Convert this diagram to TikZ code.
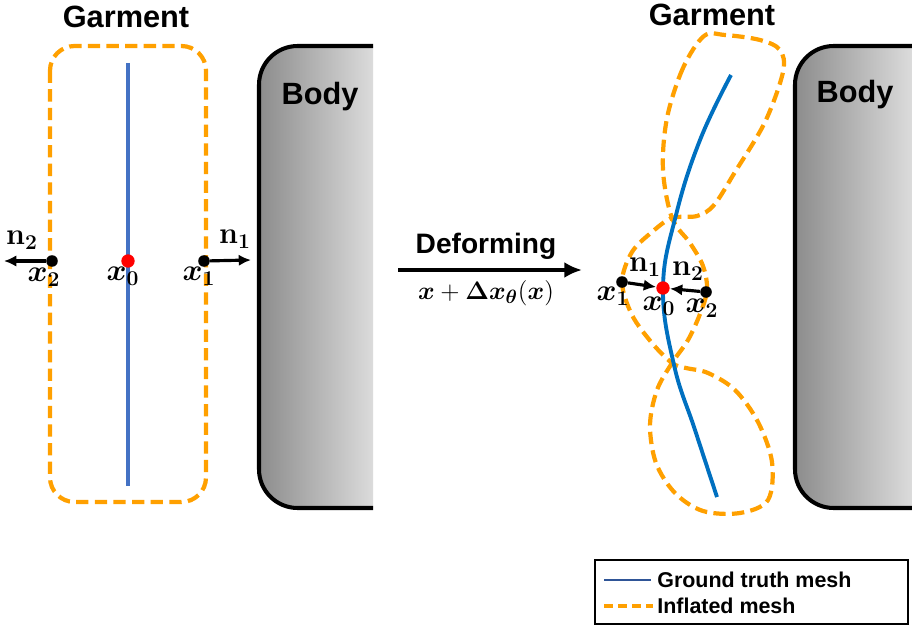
\documentclass[tikz,border=0pt]{standalone}
\usepackage{amsmath,bm}
\usepackage[no-math]{fontspec}
\setmainfont{Liberation Sans}
\usetikzlibrary{arrows.meta, positioning}

\definecolor{garmorange}{RGB}{255,160,0}
\definecolor{meshblue}{RGB}{68,114,196}
\definecolor{curveblue}{RGB}{0,112,192}
\definecolor{legblue}{RGB}{47,85,151}

\tikzset{
    inflated/.style={garmorange, line width=2.4pt, dash pattern=on 7pt off 3.6pt},
    bodyshape/.style={line width=2.3pt, left color=black!45, right color=black!14},
    dotpt/.style={circle, fill=black, inner sep=0pt, minimum size=6.6pt},
    dotctr/.style={circle, fill=red, inner sep=0pt, minimum size=7.6pt},
    normalarrow/.style={-{Latex[length=7pt,width=6.5pt]}, line width=1.8pt},
    titletext/.style={font=\fontsize{17.5}{20}\selectfont\bfseries},
    labtext/.style={font=\fontsize{18.5}{21}\selectfont, inner sep=0pt},
    legtext/.style={font=\fontsize{12.2}{14}\selectfont\bfseries, anchor=west, inner sep=0pt}
}

\begin{document}
\begin{tikzpicture}[x=0.02cm, y=-0.02cm]
    \useasboundingbox (0,0) rectangle (912,628);

    % bodies
    \draw[bodyshape, rounded corners=22pt] (373,46) -- (259,46) -- (259,508) -- (373,508);
    \draw[bodyshape, rounded corners=22pt] (912,46) -- (795,46) -- (795,508) -- (912,508);
    \node[titletext] (bodyL) at (320,97) {Body};
    \node[titletext] (bodyR) at (855,95) {Body};

    % left garment (before deforming)
    \node[titletext] (garmL) at (126,17) {Garment};
    \draw[inflated, rounded corners=14pt] (50,46) rectangle (206,502);
    \draw[meshblue, line width=2.3pt] (128,63) -- (128,486);
    \node[dotctr] (x0L) at (128,261) {};
    \node[dotpt] (x1L) at (204,261) {};
    \node[dotpt] (x2L) at (52,261) {};
    \coordinate (n1L) at (251,260);
    \coordinate (n2L) at (4,261);
    \draw[normalarrow] (x1L) -- (n1L);
    \draw[normalarrow] (x2L) -- (n2L);
    \node[labtext] at (22,240) {$\mathbf{n}_{\mathbf{2}}$};
    \node[labtext] at (235,239) {$\mathbf{n}_{\mathbf{1}}$};
    \node[labtext] at (44,277) {$\bm{x}_{\mathbf{2}}$};
    \node[labtext] at (123,276) {$\bm{x}_{\mathbf{0}}$};
    \node[labtext] at (199,276) {$\bm{x}_{\mathbf{1}}$};

    % deforming arrow
    \coordinate (defA) at (398,270);
    \coordinate (defB) at (582,270);
    \draw[-{Latex[length=10pt,width=9pt]}, line width=2.4pt] (defA) -- (defB);
    \node[font=\fontsize{16}{18}\selectfont\bfseries] (deflab) at (486,246) {Deforming};
    \node[font=\fontsize{15}{17}\selectfont] (defeq) at (486,293) {$\bm{x}+\bm{\Delta x}_{\bm{\theta}}(\bm{x})$};

    % right garment (after deforming)
    \node[titletext] (garmR) at (712,15) {Garment};
    \draw[inflated] plot[smooth cycle, tension=0.55] coordinates {
        (704,36) (683,68) (667,118) (663,170) (672,218) (690,243) (703,266)
        (707,290) (700,314) (688,340) (672,363) (657,390) (650,425) (656,463)
        (675,493) (703,511) (740,513) (768,500) (772,462) (758,422) (735,390)
        (708,373) (686,368) (672,363) (652,343) (632,315) (622,282) (632,252)
        (652,232) (672,218) (697,216) (714,205) (735,172) (765,122) (783,72)
        (780,50) (760,40) (725,35)};
    \draw[curveblue, line width=2.2pt] plot[smooth, tension=0.7] coordinates {
        (731,75) (700,140) (676,215) (663,288) (674,365) (695,430) (717,497)};
    \node[dotctr] (x0R) at (663,288) {};
    \node[dotpt] (x1R) at (622,282) {};
    \node[dotpt] (x2R) at (706,292) {};
    \draw[normalarrow] (x1R) -- (x0R);
    \draw[normalarrow] (x2R) -- (x0R);
    \node[labtext] at (645,267) {$\mathbf{n}_{\mathbf{1}}$};
    \node[labtext] at (688,271) {$\mathbf{n}_{\mathbf{2}}$};
    \node[labtext] at (613,296) {$\bm{x}_{\mathbf{1}}$};
    \node[labtext] at (659,306) {$\bm{x}_{\mathbf{0}}$};
    \node[labtext] at (702,308) {$\bm{x}_{\mathbf{2}}$};

    % legend
    \draw[line width=1.2pt] (595,560) rectangle (908,624);
    \draw[legblue, line width=1.3pt] (604,580) -- (651,580);
    \draw[garmorange, line width=2.2pt, dash pattern=on 5pt off 3pt] (604,606) -- (653,606);
    \node[legtext] (leggt) at (657,580) {Ground truth mesh};
    \node[legtext] (leginf) at (657,606) {Inflated mesh};
\end{tikzpicture}
\end{document}
